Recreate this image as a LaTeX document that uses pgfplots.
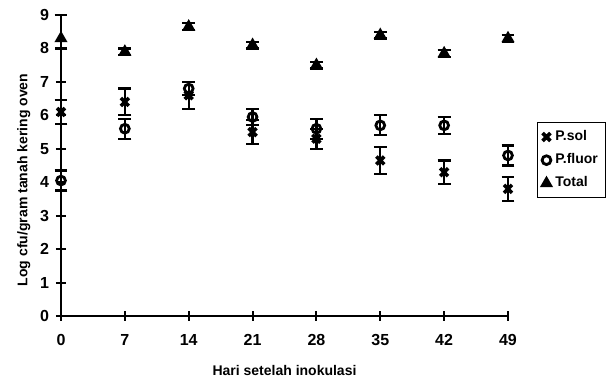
\documentclass[border=0pt]{standalone}
\usepackage{pgfplots}
\pgfplotsset{compat=1.18}
\usepackage{fontspec}
\setmainfont{Liberation Sans}
\begin{document}
\begin{tikzpicture}
\useasboundingbox (0,0) rectangle (303pt,190pt);
\begin{axis}[
  at={(30.5pt,32pt)}, anchor=origin,
  scale only axis, width=223.5pt, height=150.5pt,
  xmin=0, xmax=49, ymin=0, ymax=9,
  axis x line*=bottom, axis y line*=left,
  axis line style={line width=1.1pt, -},
  xtick={0,7,14,21,28,35,42,49},
  ytick={0,1,...,9},
  tick align=center, major tick length=5pt,
  tick style={line width=1pt, black},
  ticklabel style={font=\fontsize{8}{9}\selectfont\bfseries},
  xticklabel style={yshift=-3pt},
  /pgf/number format/assume math mode=true,
  xlabel={\bfseries Hari setelah inokulasi},
  ylabel={\bfseries Log cfu/gram tanah kering oven},
  label style={font=\fontsize{7}{8}\selectfont},
  xlabel style={at={(ticklabel cs:0.5)}, anchor=north, yshift=-3pt},
  ylabel style={at={(ticklabel cs:0.452)}, yshift=-2pt},
  clip=false,
  legend style={at={(1.065,0.645)}, anchor=north west, draw=black, line width=0.6pt,
    font=\fontsize{7}{8}\selectfont\bfseries, inner sep=2pt, row sep=1pt,
    legend cell align=left},
  legend image code/.code={\draw[#1] plot coordinates {(0.12cm,0cm)};},
  error bars/y dir=both, error bars/y explicit,
  error bars/error mark options={rotate=90, mark size=3.2pt, line width=1.1pt, black},
  error bars/error bar style={line width=1.1pt, black},
]
\addplot[only marks, mark=x, mark size=2.8pt, line width=1.8pt, black] coordinates {
 (0,6.1) +- (0,0.35)
 (7,6.4) +- (0,0.4)
 (14,6.6) +- (0,0.4)
 (21,5.5) +- (0,0.35)
 (28,5.3) +- (0,0.3)
 (35,4.65) +- (0,0.4)
 (42,4.3) +- (0,0.35)
 (49,3.8) +- (0,0.35)
};
\addlegendentry{P.sol}
\addplot[only marks, mark=o, mark size=2.2pt, line width=1.4pt, black] coordinates {
 (0,4.05) +- (0,0.3)
 (7,5.6) +- (0,0.3)
 (14,6.8) +- (0,0.2)
 (21,5.95) +- (0,0.25)
 (28,5.6) +- (0,0.3)
 (35,5.7) +- (0,0.3)
 (42,5.7) +- (0,0.25)
 (49,4.8) +- (0,0.3)
};
\addlegendentry{P.fluor}
\addplot[only marks, mark=triangle*, mark size=2.8pt, line width=1pt, black] coordinates {
 (0,8.3) += (0,0.7) -= (0,0.3)
 (7,7.9) += (0,0.1) -= (0,0.1)
 (14,8.65) += (0,0.1) -= (0,0.1)
 (21,8.1) += (0,0.1) -= (0,0.1)
 (28,7.5) += (0,0.1) -= (0,0.1)
 (35,8.4) += (0,0.1) -= (0,0.1)
 (42,7.85) += (0,0.1) -= (0,0.1)
 (49,8.3) += (0,0.1) -= (0,0.1)
};
\addlegendentry{Total}
\end{axis}
\end{tikzpicture}
\end{document}
